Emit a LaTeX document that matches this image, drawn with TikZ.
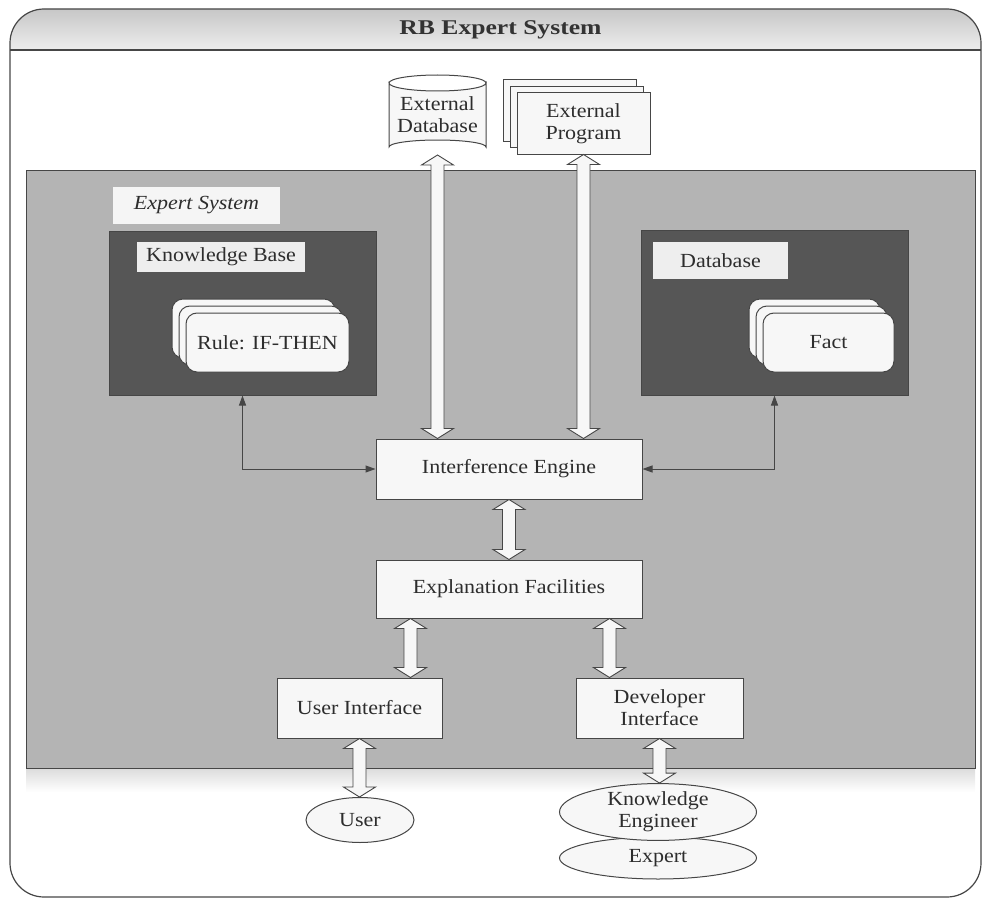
\documentclass[tikz,border=0pt]{standalone}
\usepackage{fontspec}
\setmainfont{Liberation Serif}[FakeStretch=1.1]
\newfontfamily\titlefont{Liberation Serif}[FakeStretch=1.22]
\usetikzlibrary{calc,arrows.meta,shapes.geometric}
\definecolor{regiongray}{RGB}{180,180,180}
\definecolor{darkbox}{RGB}{86,86,86}
\definecolor{linec}{RGB}{70,70,70}
\definecolor{paper}{RGB}{247,247,247}
\definecolor{labelfill}{RGB}{238,238,238}
\definecolor{txt}{RGB}{45,45,45}
\tikzset{
  every node/.style={font=\fontsize{20}{22}\selectfont, text=txt, inner sep=0pt, align=center},
  whitebox/.style={draw=linec, line width=1pt, fill=paper},
  labelbox/.style={draw=none, fill=labelfill},
  darkpanel/.style={draw=linec, line width=1pt, fill=darkbox},
  stackbox/.style={draw=linec, line width=1pt, fill=paper, rounded corners=11pt},
  pagebox/.style={draw=linec, line width=1pt, fill=paper},
  ellbox/.style={ellipse, draw=linec, line width=1pt, fill=paper},
  dblarrow/.style={draw=linec, line width=0.9pt, fill=paper},
  thinarrow/.style={draw=linec, line width=1pt, {Triangle[length=10pt,width=7pt]}-{Triangle[length=10pt,width=7pt]}}
}
\newcommand\dblarr[2]{\draw[dblarrow] let \p1=(#1), \p2=(#2) in
  (\x1,\y1) -- (\x1+16pt,\y1-10pt) -- (\x1+6.5pt,\y1-10pt) -- (\x1+6.5pt,\y2+10pt)
  -- (\x1+16pt,\y2+10pt) -- (\x1,\y2) -- (\x1-16pt,\y2+10pt) -- (\x1-6.5pt,\y2+10pt)
  -- (\x1-6.5pt,\y1-10pt) -- (\x1-16pt,\y1-10pt) -- cycle;}
\begin{document}
\begin{tikzpicture}[x=1pt,y=-1pt]
\useasboundingbox (0,0) rectangle (983,899);
% outer frame and title band
\begin{scope}
  \clip[rounded corners=34pt] (10,9) rectangle (981,897);
  \shade[top color=black!22, bottom color=black!7] (10,9) rectangle (981,50);
\end{scope}
\draw[linec, line width=1.2pt, rounded corners=34pt] (10,9) rectangle (981,897);
\draw[linec, line width=1.8pt] (10,50) -- (981,50);
\node[font=\titlefont\bfseries\fontsize{21}{23}\selectfont, text=black!80] (title) at (500.5,30) {RB Expert System};

% gray region
\shade[top color=black!14, bottom color=white] (26,768) rectangle (975,792);
\node[draw=linec, line width=1pt, fill=regiongray, minimum width=949, minimum height=598] (region) at (500.5,469) {};
\node[labelbox, fill=black!4, minimum width=167, minimum height=37] (eslabel) at (196.5,205.5) {\itshape Expert System};

% knowledge base
\node[darkpanel, minimum width=267, minimum height=164] (kb) at (242.5,313) {};
\node[labelbox, minimum width=168, minimum height=30] (kblabel) at (221,257) {Knowledge Base};
\node[stackbox, minimum width=163, minimum height=59] (rule3) at (253.5,328.5) {};
\node[stackbox, minimum width=163, minimum height=59] (rule2) at (260.5,335.5) {};
\node[stackbox, minimum width=163, minimum height=59] (rule) at (267.5,342.5) {Rule: IF-THEN};

% database
\node[darkpanel, minimum width=267, minimum height=165] (db) at (774.5,312.5) {};
\node[labelbox, minimum width=135, minimum height=37] (dblabel) at (720.5,260.5) {Database};
\node[stackbox, minimum width=131, minimum height=59] (fact3) at (814.5,328.5) {};
\node[stackbox, minimum width=131, minimum height=59] (fact2) at (821.5,335.5) {};
\node[stackbox, minimum width=131, minimum height=59] (fact) at (828.5,342.5) {Fact};

% external database (cylinder)
\draw[linec, line width=1pt, fill=paper]
  (389,83) -- (389,147) arc[start angle=180, end angle=360, x radius=48.5, y radius=7]
  -- (486,83) arc[start angle=0, end angle=180, x radius=48.5, y radius=8] -- cycle;
\draw[linec, line width=1pt] (389,83) arc[start angle=180, end angle=360, x radius=48.5, y radius=8];
\node[minimum width=97, minimum height=80] (extdb) at (437.5,115) {External\\Database};
\coordinate (extdbb) at (437.5,155);

% external program (stack of pages)
\node[pagebox, minimum width=133, minimum height=61] (prog3) at (569.5,110.5) {};
\node[pagebox, minimum width=133, minimum height=61] (prog2) at (576.5,117) {};
\node[pagebox, minimum width=133, minimum height=61] (prog) at (583.5,123.5) {External\\Program};

% engine and facilities
\node[whitebox, minimum width=266, minimum height=60] (ie) at (509,469) {Interference Engine};
\node[whitebox, minimum width=266, minimum height=58] (ef) at (509,589) {Explanation Facilities};
\node[whitebox, minimum width=165, minimum height=60] (ui) at (359.5,708) {User Interface};
\node[whitebox, minimum width=167, minimum height=60] (dev) at (659.5,708) {Developer\\Interface};

% people
\node[ellbox, minimum width=108, minimum height=45] (user) at (360,820) {User};
\node[ellbox, minimum width=197, minimum height=42] (expert) at (658,858) {\raisebox{-4pt}{Expert}};
\node[ellbox, minimum width=197, minimum height=56] (ke) at (658,812) {Knowledge\\Engineer};

% thin connectors
\draw[thinarrow] (kb.south) -- (kb.south |- ie.west) -- (ie.west);
\draw[thinarrow] (db.south) -- (db.south |- ie.east) -- (ie.east);

% hollow double arrows
\dblarr{extdbb}{extdbb |- ie.north}
\dblarr{prog.south}{prog.south |- ie.north}
\dblarr{ie.south}{ef.north}
\coordinate (ua) at ([xshift=-32pt]ui.north east);
\coordinate (da) at ([xshift=34pt]dev.north west);
\dblarr{ua |- ef.south}{ua}
\dblarr{da |- ef.south}{da}
\dblarr{ui.south}{ui.south |- user.north}
\dblarr{dev.south}{dev.south |- ke.north}
\end{tikzpicture}
\end{document}
